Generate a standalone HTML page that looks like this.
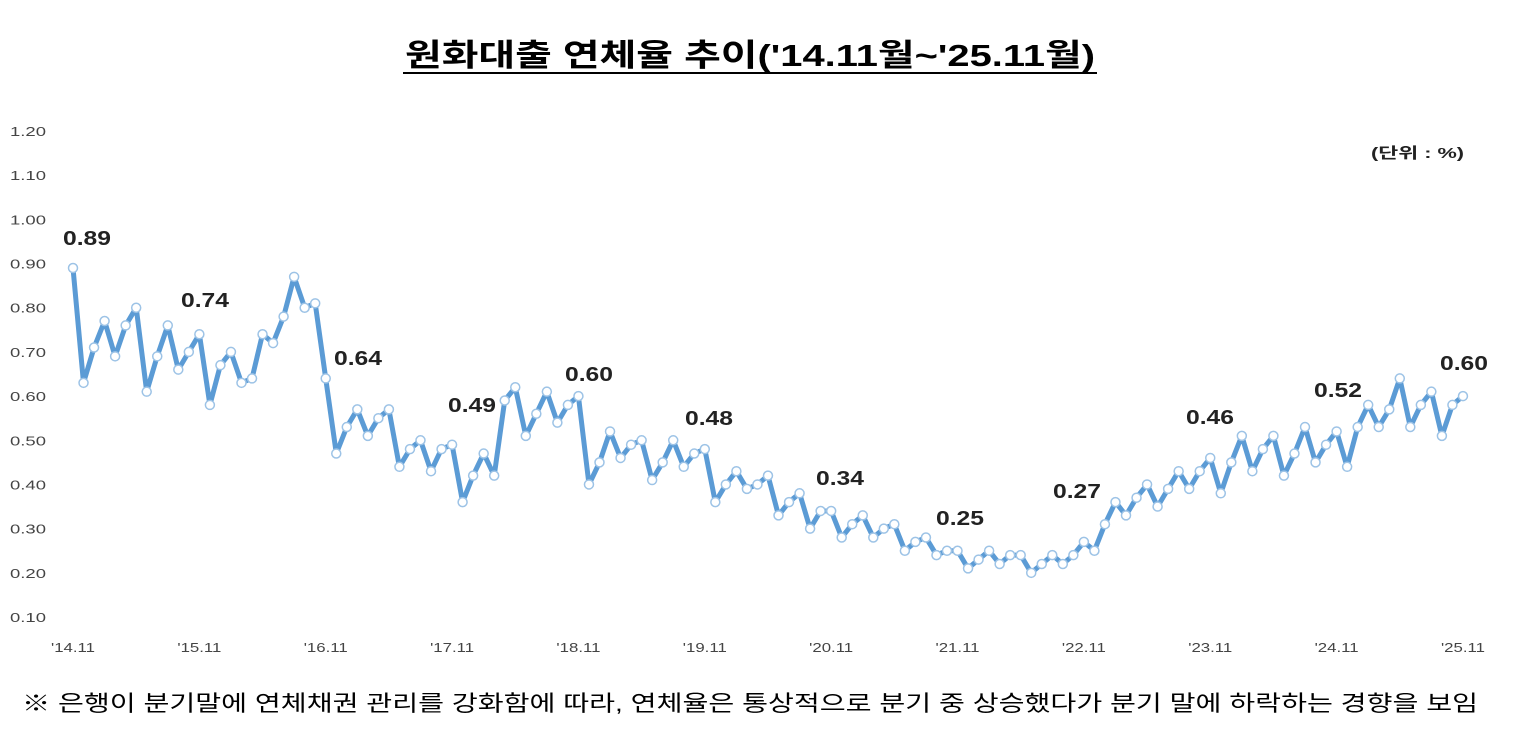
<!DOCTYPE html>
<html><head><meta charset="utf-8"><style>
body{margin:0;background:#fff;width:1525px;height:742px;overflow:hidden;font-family:"Liberation Sans","Noto Sans CJK KR",sans-serif}
</style></head><body>
<svg id="s" width="1525" height="742" xmlns="http://www.w3.org/2000/svg" font-family="Liberation Sans, Noto Sans CJK KR, sans-serif">
<text x="405" y="66" font-size="31" font-weight="bold" fill="#000" textLength="690" lengthAdjust="spacingAndGlyphs">원화대출 연체율 추이('14.11월~'25.11월)</text>
<line x1="403" y1="73" x2="1097" y2="73" stroke="#000" stroke-width="2"/>
<text x="1371" y="158" font-size="15" font-weight="bold" fill="#222" textLength="93" lengthAdjust="spacingAndGlyphs">(단위 : %)</text>
<g id="yl" font-size="13" fill="#444"></g>
<g id="xl" font-size="13" fill="#444"></g>
<polyline id="ln" fill="none" stroke="#5b9bd5" stroke-width="5" stroke-linejoin="round"/>
<g id="mk"></g>
<g id="lb" font-size="20" font-weight="bold" fill="#222"></g>
<text x="22" y="711" font-size="22" fill="#000" textLength="1456" lengthAdjust="spacingAndGlyphs">※ 은행이 분기말에 연체채권 관리를 강화함에 따라, 연체율은 통상적으로 분기 중 상승했다가 분기 말에 하락하는 경향을 보임</text>
</svg>
<script>
var d=[0.89,0.63,
0.71,0.77,0.69,0.76,0.80,0.61,0.69,0.76,0.66,0.70,0.74,0.58,
0.67,0.70,0.63,0.64,0.74,0.72,0.78,0.87,0.80,0.81,0.64,0.47,
0.53,0.57,0.51,0.55,0.57,0.44,0.48,0.50,0.43,0.48,0.49,0.36,
0.42,0.47,0.42,0.59,0.62,0.51,0.56,0.61,0.54,0.58,0.60,0.40,
0.45,0.52,0.46,0.49,0.50,0.41,0.45,0.50,0.44,0.47,0.48,0.36,
0.40,0.43,0.39,0.40,0.42,0.33,0.36,0.38,0.30,0.34,0.34,0.28,
0.31,0.33,0.28,0.30,0.31,0.25,0.27,0.28,0.24,0.25,0.25,0.21,
0.23,0.25,0.22,0.24,0.24,0.20,0.22,0.24,0.22,0.24,0.27,0.25,
0.31,0.36,0.33,0.37,0.40,0.35,0.39,0.43,0.39,0.43,0.46,0.38,
0.45,0.51,0.43,0.48,0.51,0.42,0.47,0.53,0.45,0.49,0.52,0.44,
0.53,0.58,0.53,0.57,0.64,0.53,0.58,0.61,0.51,0.58,0.60];
function Y(v){return 617-(v-0.10)*441.8}
function X(i){return 73+i*10.53}
var ns="http://www.w3.org/2000/svg",pts=[],mk=document.getElementById('mk');
function T(p,x,y,s,len,anc){var t=document.createElementNS(ns,'text');t.setAttribute('x',x);t.setAttribute('y',y);if(anc)t.setAttribute('text-anchor',anc);if(len){t.setAttribute('textLength',len);t.setAttribute('lengthAdjust','spacingAndGlyphs');}t.textContent=s;p.appendChild(t);}
d.forEach(function(v,i){pts.push(X(i).toFixed(1)+","+Y(v).toFixed(1));
var c=document.createElementNS(ns,'circle');c.setAttribute('cx',X(i));c.setAttribute('cy',Y(v));c.setAttribute('r',4.5);
c.setAttribute('fill','#fff');c.setAttribute('stroke','#9dc3e6');c.setAttribute('stroke-width','1.5');mk.appendChild(c);});
document.getElementById('ln').setAttribute('points',pts.join(' '));
var yl=document.getElementById('yl');
for(var k=0;k<12;k++){var v=0.1+k*0.1;T(yl,10,Y(v)+5,v.toFixed(2),36);}
var xl=document.getElementById('xl');
for(var k=0;k<12;k++){T(xl,X(k*12)-22,652,"'"+(14+k)+".11",44);}
var lb=document.getElementById('lb');
[[87,245,"0.89"],[205,307,"0.74"],[358,365,"0.64"],[472,412,"0.49"],[589,381,"0.60"],[709,425,"0.48"],[840,485,"0.34"],[960,525,"0.25"],[1077,498,"0.27"],[1210,424,"0.46"],[1338,397,"0.52"],[1464,370,"0.60"]].forEach(function(a){T(lb,a[0]-24,a[1],a[2],48);});
</script>
</body></html>
